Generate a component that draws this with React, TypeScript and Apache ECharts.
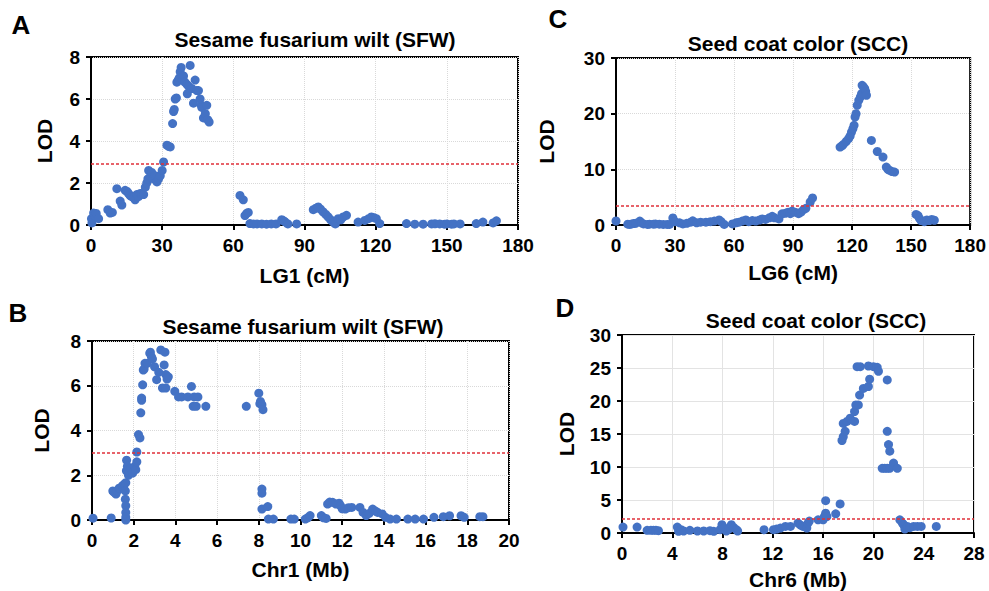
import React, { useEffect, useRef } from "react";
import * as echarts from "echarts";

// Panel A: SFW on LG1 (cM) vs LOD
const sfwLG1: number[][] = [
  [0.4,0.1],[0.2,0.3],[1.1,0.57],[1.5,0.45],[2.2,0.55],[3.2,0.3],[7.1,0.73],[8.1,0.57],[9,0.6],[10.9,1.73],[12.3,1.14],[13,0.95],[14.4,1.65],[15.2,1.6],[15.8,1.5],[16.5,1.4],[17.2,1.35],[18,1.3],[18.6,1.2],[19.3,1.45],[20,1.35],[20.8,1.5],[21.5,1.5],[22.2,1.45],[22.9,1.8],[23.5,2.0],[24,2.2],[24.3,2.6],[25,2.3],[25.6,2.5],[26.3,2.2],[27,2.35],[27.8,2.05],[28.5,2.2],[29.2,2.35],[30,2.6],[30.6,3.0],[32,3.8],[32.7,3.75],[33.4,3.72],[34.4,4.83],[34.8,5.4],[35.1,5.5],[35.5,6.0],[36,6.05],[36.2,6.8],[36.8,6.9],[37.2,7.0],[37.6,7.3],[38,7.5],[38.5,6.9],[39,7.1],[39.6,6.8],[40.4,6.7],[40.6,6.25],[41.2,6.6],[41.8,7.6],[42.5,6.5],[43.2,5.8],[43.9,6.9],[44.6,6.4],[45.3,6.4],[46,6.0],[46.5,5.7],[46.7,5.6],[47.4,5.1],[48.2,5.3],[48.8,5.7],[49.3,5.0],[49.8,4.9],
  [62.8,1.41],[64.2,1.2],[64.9,0.45],[65.6,0.55],[66.3,0.6],[67,0.07],[68.5,0.05],[70,0.05],[72,0.05],[74,0.04],[76,0.05],[78,0.05],[80.4,0.25],[81.2,0.2],[81.8,0.15],[83,0.05],[86.7,0.05],
  [93.7,0.73],[94.8,0.8],[95.8,0.86],[96.8,0.75],[97.9,0.62],[99,0.5],[100,0.38],[101,0.25],[102.1,0.14],[103,0.05],[104.2,0.3],[105.3,0.25],[106.3,0.38],[107.7,0.46],[112.6,0.14],[115.4,0.22],[117,0.3],[118.2,0.38],[119.3,0.35],[120.3,0.3],[121.7,0.07],[133,0.07],[136.5,0.04],[140,0.04],[143.6,0.05],[145,0.06],[147,0.05],[149,0.04],[150,0.05],[152,0.04],[153,0.05],[155.6,0.05],[162.4,0.07],[165.2,0.14],[169.5,0.1],[170.9,0.2]
];

// Panel B: SFW on Chr1 (Mb) vs LOD
const sfwChr1: number[][] = [
  [0.05,0.08],[0.92,0.09],[1.0,1.3],[1.05,1.25],[1.15,1.16],[1.2,1.3],[1.3,1.42],[1.35,1.4],[1.46,1.53],[1.5,1.45],[1.55,1.6],[1.62,1.67],[1.6,1.3],[1.6,0.93],[1.62,0.64],[1.62,0.34],[1.62,0.12],[1.62,0.0],[1.65,2.2],[1.66,2.67],[1.7,2.4],[1.75,2.0],[1.8,2.15],[1.85,2.3],[1.95,2.1],[2.05,2.4],[2.1,2.25],[2.15,2.6],[2.15,3.04],[2.23,3.82],[2.3,3.67],[2.34,4.79],[2.38,5.45],[2.38,5.35],[2.43,6.04],[2.46,6.7],[2.5,6.75],[2.54,7.0],[2.65,7.0],[2.77,7.45],[2.8,7.5],[2.85,7.3],[2.9,7.2],[3.0,6.85],[3.1,6.27],[3.2,6.6],[3.3,7.6],[3.38,5.9],[3.46,6.93],[3.5,7.5],[3.54,6.5],[3.54,5.9],[3.6,6.3],[3.66,6.4],[3.97,5.75],[4.15,5.5],[4.3,5.5],[4.6,5.5],[4.77,5.97],[4.85,5.08],[4.9,5.5],[5.0,5.08],[5.08,5.5],[5.46,5.08],[7.4,5.08],[8.0,5.67],[8.05,5.2],[8.08,5.3],[8.15,5.15],[8.2,4.93],[8.15,1.38],[8.15,1.2],[8.15,0.49],[8.43,0.6],[8.46,0.04],[8.7,0.04],[9.54,0.04],[9.7,0.04],[10.23,0.04],[10.35,0.1],[10.46,0.2],[11.0,0.2],[11.1,0.1],[11.23,0.07],[11.3,0.71],[11.4,0.8],[11.54,0.79],[11.7,0.71],[11.85,0.75],[11.92,0.64],[12.0,0.5],[12.15,0.49],[12.3,0.55],[12.46,0.56],[12.85,0.56],[13.0,0.34],[13.15,0.2],[13.3,0.3],[13.46,0.49],[13.6,0.4],[13.7,0.34],[13.92,0.27],[14.08,0.12],[14.3,0.04],[14.6,0.04],[15.15,0.04],[15.5,0.04],[15.9,0.04],[16.4,0.12],[16.85,0.15],[17.15,0.19],[17.7,0.19],[17.85,0.12],[18.6,0.15],[18.75,0.15]
];

// Panel C: SCC on LG6 (cM) vs LOD
const sccLG6: number[][] = [
  [0,0.72],[6,0.15],[7,0.1],[8,0.2],[9,0.25],[10,0.3],[12.1,0.7],[13,0.4],[14,0.2],[16,0.1],[17,0.15],[19,0.15],[20,0.2],[22,0.15],[24,0.1],[26,0.1],[27.2,0.1],[28.9,1.27],[30,0.6],[32.3,0.4],[34,0.2],[36,0.3],[38,0.5],[39,0.75],[41,0.4],[43,0.5],[45.7,0.5],[48,0.6],[50,0.7],[52.4,0.9],[53.5,0.6],[55,0.1],[59.2,0.2],[61,0.4],[62.5,0.5],[64.2,0.7],[66,0.9],[67.5,0.6],[69.3,0.8],[71,0.7],[73,0.9],[74.3,1.1],[76,1.0],[78,1.3],[79.4,1.56],[80.5,1.3],[82.8,1.1],[84.4,2.0],[86,2.1],[87.5,2.3],[88.6,2.04],[89.5,2.5],[91,2.3],[92.8,2.04],[94,2.3],[95.3,2.75],[96.5,3.0],[98.7,4.14],[99.9,4.85],
  [113.9,14.0],[114.8,14.2],[115.6,14.5],[117,15.0],[118.2,15.5],[119,16.0],[119.7,16.7],[120.4,17.3],[121,17.9],[121.5,19.4],[122,20.0],[122.6,21.5],[123.4,22.4],[124.2,23.0],[124.8,23.6],[125.1,25.1],[125.8,24.8],[126.4,24.5],[126.9,24.0],[127.3,23.3],[129.8,15.2],[132.8,13.2],[135.7,12.2],[137.4,10.4],[138.2,10.0],[139.1,9.8],[140.3,9.6],[141.6,9.5],
  [152.5,1.9],[153.5,1.7],[154.2,1.2],[155,0.8],[156.7,0.6],[158,0.9],[159.3,0.8],[160.5,1.0],[161.8,0.85]
];

// Panel D: SCC on Chr6 (Mb) vs LOD
const sccChr6: number[][] = [
  [0.08,0.9],[1.2,0.9],[2.0,0.4],[2.3,0.4],[2.5,0.4],[2.7,0.4],[2.9,0.35],[4.4,0.9],[4.5,0.25],[4.7,0.5],[4.9,0.3],[5.4,0.4],[6.0,0.3],[6.5,0.3],[7.0,0.35],[7.3,0.25],[7.8,0.5],[7.95,1.26],[8.1,0.8],[8.3,0.3],[8.5,0.6],[8.7,1.26],[8.9,0.8],[9.1,0.5],[9.2,0.3],[11.3,0.5],[12.05,0.5],[12.3,0.6],[12.6,0.75],[13.0,1.0],[13.4,1.0],[14.0,1.5],[14.2,1.2],[14.4,1.0],[14.7,0.75],[14.8,1.5],[14.9,1.8],[15.6,2.0],[16.0,2.0],[16.1,2.5],[16.2,3.0],[16.2,4.9],[16.3,2.5],[17.0,2.9],[17.35,4.4],[17.5,14.0],[17.6,14.6],[17.75,15.4],[17.6,16.6],[17.9,16.9],[18.15,17.4],[18.5,16.9],[18.5,18.4],[18.6,19.4],[18.8,19.4],[18.7,25.2],[18.95,25.2],[18.9,20.9],[19.2,21.9],[19.6,22.2],[19.7,23.3],[19.6,25.3],[20.0,25.2],[20.3,25.1],[20.4,24.5],[21.1,23.2],[21.1,15.4],[21.2,13.4],[21.3,12.4],[20.7,9.8],[20.9,9.8],[21.1,9.8],[21.3,9.8],[21.6,10.6],[21.9,9.8],[22.1,2.0],[22.3,1.5],[22.4,1.25],[22.5,0.6],[22.7,1.0],[22.9,0.8],[23.2,1.0],[23.5,1.0],[23.8,1.0],[25.0,1.0]
];

const titles = ["Sesame fusarium wilt (SFW)", "Sesame fusarium wilt (SFW)", "Seed coat color (SCC)", "Seed coat color (SCC)"];
const panelLetters = ["A", "B", "C", "D"];
const xNames = ["LG1 (cM)", "Chr1 (Mb)", "LG6 (cM)", "Chr6 (Mb)"];
const yName = "LOD";
const thresholds = [2.9, 3.0, 3.4, 2.15];
const xMaxes = [180, 20, 180, 28];
const xIntervals = [30, 2, 30, 4];
const yMaxes = [8, 8, 30, 30];
const yIntervals = [2, 2, 10, 5];

const FONT = "'Liberation Sans', Arial, Helvetica, sans-serif";
const BLUE = "#4472C4";

const layout = [
  { left: 91, top: 57, width: 427, height: 168, titleX: 315, titleY: 39, letterX: 21, letterY: 25, xGap: 40, yGap: 36 },
  { left: 92, top: 341, width: 417, height: 179, titleX: 303, titleY: 326, letterX: 18, letterY: 313, xGap: 39, yGap: 40 },
  { left: 616, top: 58, width: 357, height: 167, titleX: 798, titleY: 43, letterX: 558, letterY: 19, xGap: 37, yGap: 59 },
  { left: 622, top: 335, width: 352, height: 198, titleX: 816, titleY: 320, letterX: 565, letterY: 308, xGap: 36, yGap: 45 },
];
const datasets = [sfwLG1, sfwChr1, sccLG6, sccChr6];

export default function App() {
  const ref = useRef<HTMLDivElement>(null);
  useEffect(() => {
    document.body.style.margin = "0";
    if (!ref.current) return;
    const chart = echarts.init(ref.current, undefined, { renderer: "svg" });
    const grids: any[] = [];
    const xAxes: any[] = [];
    const yAxes: any[] = [];
    const series: any[] = [];
    const graphics: any[] = [];
    layout.forEach((L, i) => {
      grids.push({
        left: L.left, top: L.top, width: L.width, height: L.height,
        show: true, borderColor: "#000", borderWidth: 2, backgroundColor: "transparent",
      });
      const axisCommon = {
        axisLine: { show: true, onZero: false, lineStyle: { color: "#000", width: 2 } },
        axisTick: { show: true, inside: false, length: 5, lineStyle: { color: "#000", width: 2 } },
        axisLabel: { fontSize: 19, fontWeight: "bold", color: "#000", fontFamily: FONT, margin: 11 },
        nameTextStyle: { fontSize: 21, fontWeight: "bold", color: "#000", fontFamily: FONT },
        splitLine: { show: true, lineStyle: { color: i === 3 ? "#e3e3e3" : "#d9d9d9", type: i === 3 ? "solid" : "dotted", width: 1 } },
      };
      xAxes.push({
        ...axisCommon, gridIndex: i, type: "value", min: 0, max: xMaxes[i], interval: xIntervals[i],
        name: xNames[i], nameLocation: "middle", nameGap: L.xGap,
      });
      yAxes.push({
        ...axisCommon, gridIndex: i, type: "value", min: 0, max: yMaxes[i], interval: yIntervals[i],
        name: yName, nameLocation: "middle", nameGap: L.yGap,
      });
      series.push({
        type: "scatter", xAxisIndex: i, yAxisIndex: i, data: datasets[i], symbolSize: 9,
        itemStyle: { color: BLUE, opacity: 1 },
        markLine: {
          silent: true, symbol: "none", label: { show: false },
          lineStyle: { color: "#e0303a", type: [3, 2], width: 1.5 },
          data: [{ yAxis: thresholds[i] }],
        },
      });
      graphics.push({
        type: "text", x: L.titleX, y: L.titleY,
        style: { text: titles[i], fontSize: 21, fontWeight: "bold", fill: "#000", fontFamily: FONT, textAlign: "center", textVerticalAlign: "middle" },
      });
      graphics.push({
        type: "text", x: L.letterX, y: L.letterY,
        style: { text: panelLetters[i], fontSize: 26, fontWeight: "bold", fill: "#000", fontFamily: FONT, textAlign: "center", textVerticalAlign: "middle" },
      });
    });
    chart.setOption({
      animation: false,
      backgroundColor: "#fff",
      textStyle: { fontFamily: FONT },
      grid: grids,
      xAxis: xAxes,
      yAxis: yAxes,
      series,
      graphic: graphics,
    });
    return () => chart.dispose();
  }, []);
  return <div ref={ref} style={{ width: 989, height: 591 }} />;
}
